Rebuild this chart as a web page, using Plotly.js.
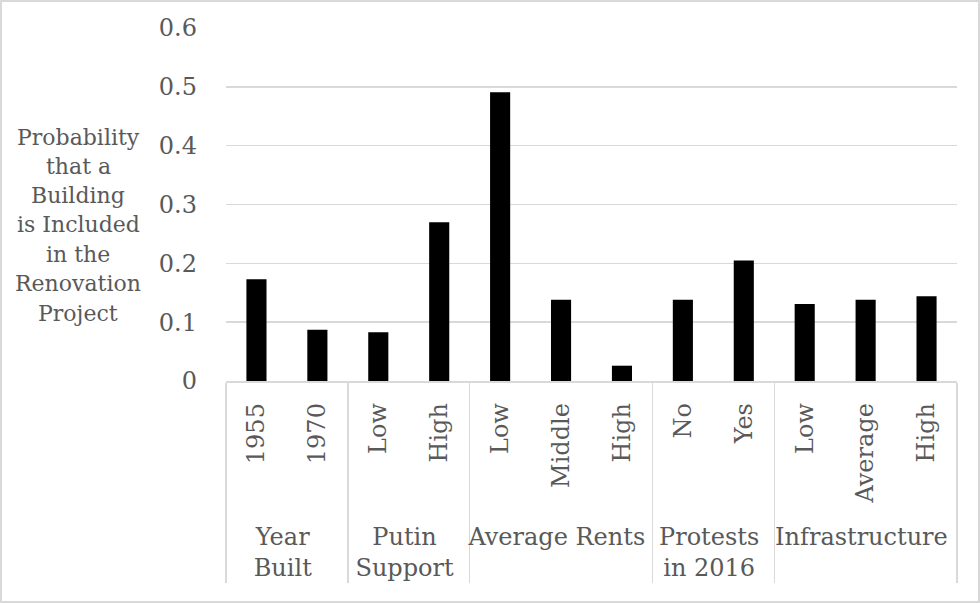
<!DOCTYPE html>
<html>
<head>
<meta charset="utf-8">
<script src="https://cdn.plot.ly/plotly-3.0.1.min.js"></script>
<style>
html,body{margin:0;padding:0;background:#fff;}
#frame{position:absolute;left:0;top:0;width:976px;height:599px;border:2px solid #d9d9d9;}
#chart{position:absolute;left:0;top:0;width:980px;height:603px;}
</style>
</head>
<body>
<div id="frame"></div>
<div id="chart"></div>
<script>
// Entries are listed so that Plotly's multicategory "first seen" ordering
// reproduces the reference order on the axis.
const groups = ["Year<br>Built","Putin<br>Support","Average Rents","Protests<br>in 2016","Infrastructure",
                "Year<br>Built","Putin<br>Support","Average Rents","Average Rents","Protests<br>in 2016","Infrastructure","Infrastructure"];
const labels = ["1955","Low","Middle","No","Average",
                "1970","High","Low","High","Yes","Low","High"];
const probability = [0.173, 0.083, 0.138, 0.138, 0.138,
                     0.087, 0.270, 0.491, 0.026, 0.205, 0.131, 0.144];
const yTicks = [0, 0.1, 0.2, 0.3, 0.4, 0.5, 0.6];
const yTickText = ["0","0.1","0.2","0.3","0.4","0.5","0.6"];
const yTitleLines = ["Probability","that a","Building","is Included","in the","Renovation","Project"];

const FONT = "DejaVu Serif";
const GREY = "#595959";
const FS = 24;

const trace = {
  type: "bar",
  x: [groups, labels.map(s => "\u00A0" + s)],
  y: probability,
  marker: {color: "#000000"},
  hoverinfo: "skip"
};

// y-axis title: one annotation per line (pixel rows of the reference)
const plotTop = 28, plotBottom = 381;
const titleRows = [137, 166, 195, 224, 254, 283, 313];
const titleAnns = yTitleLines.map((t, i) => ({
  xref: "paper", yref: "paper",
  x: (78 - 226) / (957 - 226), y: (plotBottom - titleRows[i]) / (plotBottom - plotTop),
  xanchor: "center", yanchor: "middle",
  text: t, showarrow: false,
  font: {family: FONT, size: 22, color: GREY}
}));

const layout = {
  width: 980, height: 603,
  margin: {l: 226, r: 23, t: plotTop, b: 603 - plotBottom},
  paper_bgcolor: "rgba(0,0,0,0)",
  plot_bgcolor: "rgba(0,0,0,0)",
  bargap: 0.67,
  showlegend: false,
  font: {family: FONT, color: GREY, size: FS},
  xaxis: {
    type: "multicategory",
    tickangle: -90,
    tickfont: {family: FONT, size: FS, color: GREY},
    showline: true, linecolor: "#d9d9d9", linewidth: 1.5,
    ticks: "", showgrid: false,
    showdividers: true, dividercolor: "#d9d9d9", dividerwidth: 1.5,
    zeroline: false,
    ticklabelstandoff: 11
  },
  yaxis: {
    range: [0, 0.6],
    tickvals: yTicks, ticktext: yTickText,
    tickfont: {family: FONT, size: FS, color: GREY},
    showgrid: true, gridcolor: "#d9d9d9", gridwidth: 1.5,
    zeroline: false, showline: false, ticks: "",
    ticklabelstandoff: 28
  },
  annotations: titleAnns
};

Plotly.newPlot("chart", [trace], layout, {displayModeBar: false, staticPlot: true});
</script>
</body>
</html>
